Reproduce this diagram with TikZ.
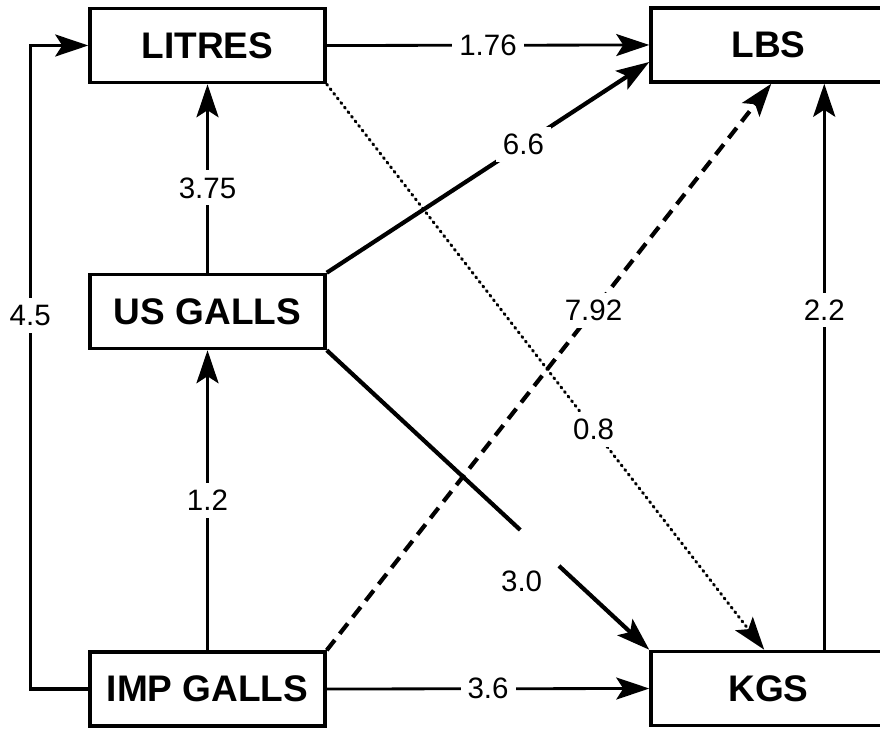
\documentclass[tikz,border=0pt]{standalone}
\usepackage{fontspec}
\setmainfont{Liberation Sans}
\usetikzlibrary{arrows.meta,calc}
\begin{document}
\begin{tikzpicture}[x=1pt,y=1pt,
  unit/.style={draw, line width=3.5pt, minimum width=235pt, minimum height=74pt,
    inner sep=0pt, font=\fontsize{37}{40}\selectfont\bfseries},
  conv/.style={fill=white, inner sep=7pt, font=\fontsize{29.5}{32}\selectfont},
  head/.style={-{Stealth[length=33pt,width=22pt,inset=7pt]}},
  link/.style={head, line width=3.2pt},
  thinlink/.style={head, line width=2.8pt},
  heavylink/.style={head, line width=4.2pt},
  heavyline/.style={line width=4.2pt},
  dashlink/.style={head, line width=4.2pt, dash pattern=on 13pt off 8pt},
  dotlink/.style={head, line width=3pt, line cap=round, dash pattern=on 1.2pt off 4.6pt}
]
\clip (0,0) rectangle (880,728);
\fill[white] (0,0) rectangle (880,728);

% units
\node[unit] (litres) at (207.5,682.5) {LITRES};
\node[unit] (us)     at (207.5,416.5) {US GALLS};
\node[unit] (imp)    at (207.5,39)    {IMP GALLS};
\node[unit] (lbs)    at (768.5,683)   {LBS};
\node[unit] (kgs)    at (768.5,39.5)  {KGS};

% conversion factors
\draw[thinlink] (litres.east) -- node[conv]{1.76} (lbs.west);
\draw[link] (us.north) -- node[conv,pos=0.45]{3.75} (litres.south);
\draw[heavylink] (us.north east) -- node[conv,pos=0.61]{6.6} ([yshift=-17pt]lbs.west);
\draw[dashlink] (imp.north east) -- node[conv,pos=0.6]{7.92} ([xshift=122pt]lbs.south west);
\draw[dotlink] (litres.south east) -- node[conv,pos=0.61]{0.8} ([xshift=115pt]kgs.north west);
\draw[link] (imp.north) -- node[conv]{1.2} (us.south);
\draw[thinlink] (imp.east) -- node[conv]{3.6} (kgs.west);
\draw[link] ([xshift=175pt]kgs.north west) -- node[conv,pos=0.6]{2.2} ([xshift=175pt]lbs.south west);
\draw[link] (imp.west) -- ++(-58,0) |- node[conv,pos=0.29,inner xsep=2pt]{4.5} (litres.west);

% US GALLS to KGS, broken beside its factor
\draw[heavyline] (us.south east) -- ($(us.south east)!0.6!(kgs.north west)$);
\draw[heavylink] ($(us.south east)!0.72!(kgs.north west)$) -- (kgs.north west);
\node[conv] (f30) at ($(us.south east)!0.66!(kgs.north west)+(-18,-33)$) {3.0};
\end{tikzpicture}
\end{document}
